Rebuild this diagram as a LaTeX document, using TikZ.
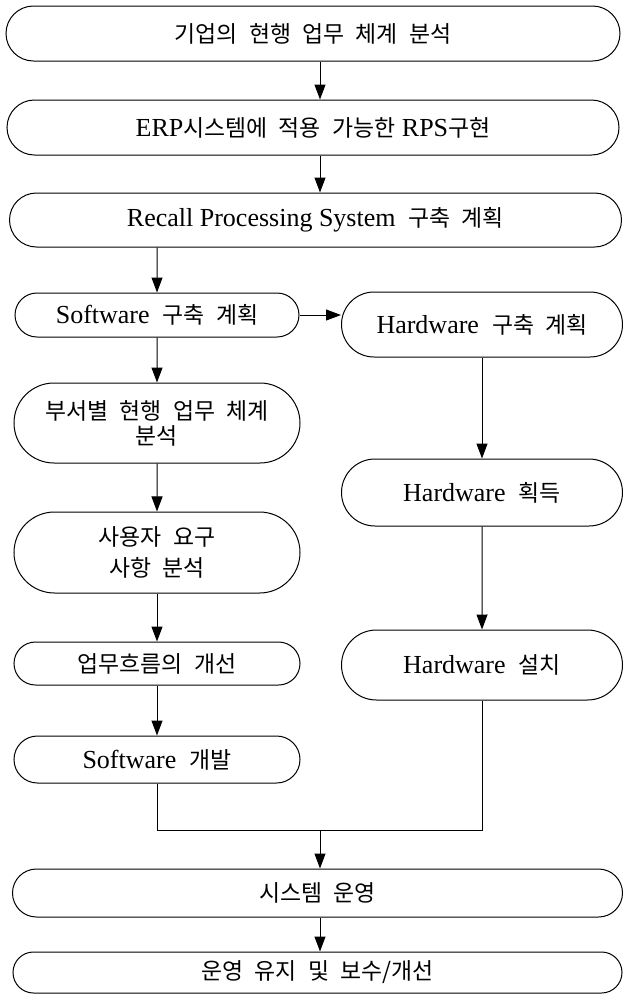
\documentclass[tikz,border=0pt]{standalone}
\usepackage{fontspec}
\setmainfont{Liberation Serif}
\newfontfamily\ko[Scale=0.88,WordSpace=2.2]{Noto Sans CJK KR}
\usetikzlibrary{shapes.misc}
\usetikzlibrary{arrows.meta, positioning}

\tikzset{
  stage/.style={draw, rounded rectangle, line width=1pt, inner sep=0pt,
    align=center, font=\fontsize{26}{31}\selectfont},
  arr/.style={-{Triangle[length=15pt, width=11pt]}, line width=1pt},
}

\begin{document}
\begin{tikzpicture}[x = 1pt, y = -1pt]

    \useasboundingbox (0,0) rectangle (624,997);

    % Colonna comune in alto
    \node[stage, minimum width=614pt, minimum height=55pt] (b1) at (313,33.5) {{\ko 기업의 현행 업무 체계 분석}};
    \node[stage, minimum width=612pt, minimum height=55pt] (b2) at (313,127.5) {ERP{\ko 시스템에 적용 가능한} RPS{\ko 구현}};
    \node[stage, minimum width=612pt, minimum height=54pt] (b3) at (315.5,220) {Recall Processing System \ {\ko 구축 계획}};

    % Software (sinistra)
    \node[stage, minimum width=284pt, minimum height=44pt] (sw) at (157,315) {Software \ {\ko 구축 계획}};
    \node[stage, minimum width=286pt, minimum height=80pt] (dept) at (157,423) {{\ko 부서별 현행 업무 체계}\\[-6pt]{\ko 분석}};
    \node[stage, minimum width=286pt, minimum height=81pt] (req) at (157,552.5) {{\ko 사용자 요구}\\{\ko 사항 분석}};
    \node[stage, minimum width=286pt, minimum height=43pt] (flow) at (157,663.5) {{\ko 업무흐름의 개선}};
    \node[stage, minimum width=286pt, minimum height=47pt] (dev) at (157,759.5) {Software \ {\ko 개발}};

    % Hardware (destra)
    \node[stage, minimum width=281pt, minimum height=65pt] (hw) at (482,324.5) {Hardware \ {\ko 구축 계획}};
    \node[stage, minimum width=281pt, minimum height=67pt] (hwget) at (482,492.5) {Hardware \ {\ko 획득}};
    \node[stage, minimum width=281pt, minimum height=70pt] (hwins) at (482,665) {Hardware \ {\ko 설치}};

    % Colonna comune in basso
    \node[stage, minimum width=610pt, minimum height=48pt] (ops) at (317.5,893) {{\ko 시스템 운영}};
    \node[stage, minimum width=609pt, minimum height=41pt] (maint) at (317.5,972.5) {{\ko 운영 유지 및 보수/개선}};

    \coordinate (mid) at (320,0);
    \coordinate (join) at (320,830);

    % Frecce
    \draw[arr] (b1.south -| mid) -- (b2.north -| mid);
    \draw[arr] (b2.south -| mid) -- (b3.north -| mid);
    \draw[arr] (b3.south -| sw) -- (sw);
    \draw[arr] (sw.east) -- (sw.east -| hw.west);
    \draw[arr] (sw) -- (dept);
    \draw[arr] (dept) -- (req);
    \draw[arr] (req) -- (flow);
    \draw[arr] (flow) -- (dev);
    \draw[arr] (hw) -- (hwget);
    \draw[arr] (hwget) -- (hwins);

    % Ricongiungimento
    \draw[line width=1pt] (dev.south) |- (join) -| (hwins.south);
    \draw[arr] (join) -- (join |- ops.north);
    \draw[arr] (ops.south -| mid) -- (maint.north -| mid);

\end{tikzpicture}
\end{document}
